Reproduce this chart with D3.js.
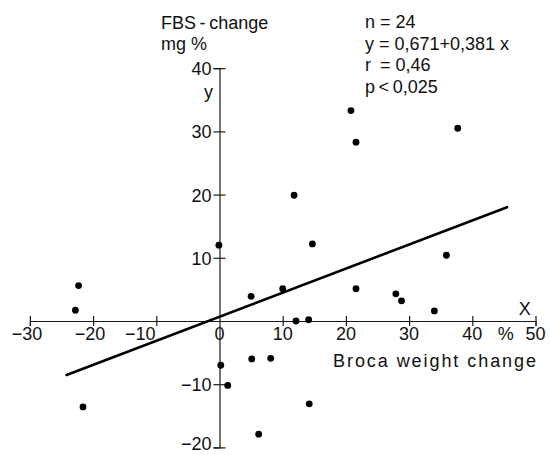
<!DOCTYPE html>
<html>
<head>
<meta charset="utf-8">
<script src="https://cdn.jsdelivr.net/npm/d3@7"></script>
<style>
  body { margin: 0; background: #fff; }
  svg { display: block; font-family: "Liberation Sans", Arial, sans-serif; }
  .axis path, .axis line { stroke: #1a1a1a; stroke-width: 1.2; }
  .axis text { font-size: 18px; fill: #111; font-family: "Liberation Sans", Arial, sans-serif; }
  .lbl { font-size: 18px; fill: #111; }
</style>
</head>
<body>
<div id="chart"></div>
<script>
// Data: Broca weight change (%) vs FBS change (mg %)
const weightChange = [-22.3, -22.8, -21.6, -0.1, 5.0, 10.0, 12.1, 14.1, 14.7, 11.8,
                      0.2, 1.3, 5.1, 8.1, 14.2, 6.2,
                      20.8, 21.6, 37.7, 21.6, 27.9, 28.8, 34.0, 35.9];
const fbsChange    = [5.6, 1.7, -13.6, 12.0, 3.9, 5.1, 0.0, 0.2, 12.2, 19.9,
                      -7.0, -10.2, -6.0, -5.9, -13.1, -17.9,
                      33.3, 28.3, 30.5, 5.1, 4.3, 3.2, 1.6, 10.4];

const xTicks = [-30, -20, -10, 10, 20, 30, 40, 50];
const xLabels = [-30, -20, -10, 0, 10, 20, 30, 40, 50];
const yTicks = [-20, -10, 10, 20, 30, 40];

// regression y = 0,671 + 0,381 x, drawn over this x span
const fitIntercept = 0.671;
const fitSlope = 0.381;
const fitSpan = [-24.2, 45.5];

const statLines = ["n = 24", "y = 0,671+0,381 x", "r\u2002= 0,46", "p\u2009<\u20090,025"];

// Dimensions
const width = 550;
const height = 455;

const svg = d3.select("#chart")
  .append("svg")
    .attr("width", width)
    .attr("height", height);

// Scales (same length per unit on both axes, origin at 219.5, 321)
const x = d3.scaleLinear().domain([-30, 50]).range([29.9, 535.5]);
const y = d3.scaleLinear().domain([-20, 40]).range([447.4, 68.2]);

const x0 = x(0);
const y0 = y(0);

// x-axis through the origin
const xAxis = d3.axisBottom(x)
  .tickValues(xTicks)
  .tickSizeOuter(0)
  .tickSize(5)
  .tickFormat("");

const gx = svg.append("g")
    .attr("class", "axis")
    .attr("transform", `translate(0, ${y0})`)
    .call(xAxis);
gx.selectAll(".tick line").attr("y1", -5).attr("y2", 5);

// x tick labels (-10 is moved left so the fit line does not cross it)
svg.append("g")
  .selectAll("text")
  .data(xLabels)
  .join("text")
    .attr("class", "lbl")
    .attr("x", d => x(d))
    .attr("y", y0 + 19)
    .attr("dx", d => d === -10 ? -16 : (d < 0 ? -3 : 0))
    .attr("text-anchor", "middle")
    .text(d => d < 0 ? "\u2212" + Math.abs(d) : d);

// y-axis through the origin
const yAxis = d3.axisLeft(y)
  .tickValues(yTicks)
  .tickSizeOuter(0)
  .tickSize(6)
  .tickFormat(d => d < 0 ? "\u2212" + Math.abs(d) : d);

const gy = svg.append("g")
    .attr("class", "axis")
    .attr("transform", `translate(${x0}, 0)`)
    .call(yAxis);
gy.selectAll(".tick line").attr("x1", -6).attr("x2", 6);
gy.selectAll(".tick text")
    .attr("x", -8)
    .attr("dy", d => d === -20 ? "0.12em" : "0.36em");   // bottom label kept inside the frame

// Regression line
const fitLine = d3.line()
  .x(d => x(d))
  .y(d => y(fitIntercept + fitSlope * d));

svg.append("path")
    .datum(fitSpan)
    .attr("d", fitLine)
    .attr("fill", "none")
    .attr("stroke", "#000")
    .attr("stroke-width", 2.6)
    .attr("stroke-linecap", "round");

// Points
svg.append("g")
  .selectAll("circle")
  .data(d3.range(weightChange.length))
  .join("circle")
    .attr("cx", i => x(weightChange[i]))
    .attr("cy", i => y(fbsChange[i]))
    .attr("r", 3.4)
    .attr("fill", "#000");

// Axis titles
svg.append("text").attr("class", "lbl")
    .attr("x", 161).attr("y", 29)
    .text("FBS\u2009-\u2009change");
svg.append("text").attr("class", "lbl")
    .attr("x", 161).attr("y", 50)
    .text("mg %");
svg.append("text").attr("class", "lbl")
    .attr("x", x0 - 11).attr("y", 98)
    .attr("text-anchor", "middle")
    .text("y");
svg.append("text").attr("class", "lbl")
    .attr("x", x(48.3)).attr("y", y0 - 6)
    .attr("text-anchor", "middle")
    .text("X");
svg.append("text").attr("class", "lbl")
    .attr("x", x(45.3)).attr("y", y0 + 19)
    .attr("text-anchor", "middle")
    .text("%");
svg.append("text").attr("class", "lbl")
    .attr("x", 333).attr("y", 367)
    .attr("textLength", 203)
    .attr("lengthAdjust", "spacing")
    .text("Broca weight change");

// Statistics block
svg.append("g")
  .selectAll("text")
  .data(statLines)
  .join("text")
    .attr("class", "lbl")
    .attr("x", 365)
    .attr("y", (d, i) => 28 + i * 21.7)
    .text(d => d);
</script>
</body>
</html>
